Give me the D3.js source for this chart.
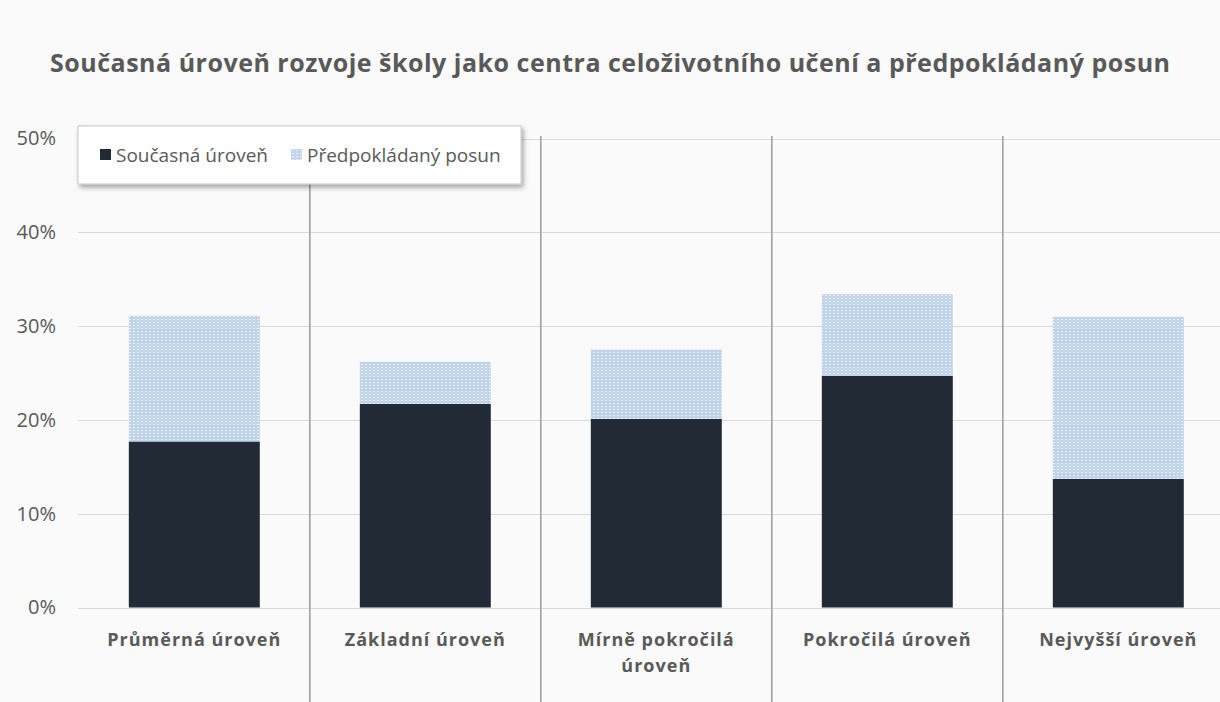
<!DOCTYPE html>
<html>
<head>
<meta charset="utf-8">
<script src="https://cdn.jsdelivr.net/npm/d3@7"></script>
<style>
  body { margin: 0; background: #fafafa; }
  svg { display: block; }
</style>
</head>
<body>
<div id="chart"></div>
<script>
// data (percent)
const categories = ["Průměrná úroveň", "Základní úroveň", "Mírně pokročilá úroveň", "Pokročilá úroveň", "Nejvyšší úroveň"];
const soucasna = [17.7, 21.7, 20.1, 24.7, 13.7];
const posun = [13.4, 4.5, 7.4, 8.7, 17.3];
const seriesNames = ["Současná úroveň", "Předpokládaný posun"];
const yTicks = [0, 10, 20, 30, 40, 50];
const title = "Současná úroveň rozvoje školy jako centra celoživotního učení a předpokládaný posun";

var width = 1220,
    height = 702;
var plotLeft = 78, plotTop = 138.5, plotBottom = 607.5;
var textColor = "#595959", darkColor = "#222a35";

var svg = d3.select("#chart")
  .append("svg")
    .attr("width", width)
    .attr("height", height)
    .style("font-family", "'Open Sans', sans-serif");

var defs = svg.append("defs");

// dotted light-blue fill like the excel pattern
var pat = defs.append("pattern")
    .attr("id", "dots")
    .attr("patternUnits", "userSpaceOnUse")
    .attr("width", 4)
    .attr("height", 3);
pat.append("rect").attr("width", 4).attr("height", 3).attr("fill", "#c2d4e9");
pat.append("rect").attr("x", 1).attr("y", 1).attr("width", 2).attr("height", 1).attr("fill", "#e6eef7");

var shadow = defs.append("filter")
    .attr("id", "shadow")
    .attr("x", "-10%").attr("y", "-30%")
    .attr("width", "120%").attr("height", "170%");
shadow.append("feDropShadow")
    .attr("dx", 2).attr("dy", 3)
    .attr("stdDeviation", 2.5)
    .attr("flood-color", "#000")
    .attr("flood-opacity", 0.35);

var x = d3.scaleBand()
    .domain(categories)
    .range([plotLeft, 1234.6])
    .paddingInner(0.433)
    .paddingOuter(0.22);

var y = d3.scaleLinear()
    .domain([0, 50])
    .range([plotBottom, plotTop]);

// title - shrink the font until it fits the width of the original
var t = svg.append("text")
    .attr("x", width / 2)
    .attr("y", 72)
    .attr("text-anchor", "middle")
    .style("font-size", "25px")
    .style("font-weight", "bold")
    .style("fill", textColor)
    .text(title);
var fs = 25;
while (t.node().getComputedTextLength() > 1120 && fs > 12) {
  fs -= 0.5;
  t.style("font-size", fs + "px");
}
t.attr("textLength", 1120).attr("lengthAdjust", "spacing");

// gridlines
svg.append("g")
  .selectAll("line")
  .data(yTicks)
  .enter().append("line")
    .attr("x1", plotLeft)
    .attr("x2", width)
    .attr("y1", d => Math.round(y(d)) + 0.5)
    .attr("y2", d => Math.round(y(d)) + 0.5)
    .attr("stroke", "#d9d9d9")
    .attr("stroke-width", 1);

// y axis labels
var yAxis = svg.append("g")
    .attr("transform", "translate(56,0)")
    .call(d3.axisLeft(y).tickValues(yTicks).tickSize(0).tickPadding(0).tickFormat(d => d + "%"));
yAxis.select(".domain").remove();
yAxis.selectAll("text")
    .style("font-family", "'Open Sans', sans-serif")
    .style("font-size", "20px")
    .style("fill", textColor);

// separators between categories
var step = x.step();
svg.append("g")
  .selectAll("line")
  .data(categories.slice(1))
  .enter().append("line")
    .attr("x1", d => x(d) - (step - x.bandwidth()) / 2)
    .attr("x2", d => x(d) - (step - x.bandwidth()) / 2)
    .attr("y1", 136)
    .attr("y2", height)
    .attr("stroke", "#a0a0a0")
    .attr("stroke-width", 1.6);

// stacked bars
var rows = categories.map(function(c, i) {
  return { cat: c, a: soucasna[i], b: posun[i] };
});
var stack = d3.stack().keys(["a", "b"]);
var layers = stack(rows);
var fills = [darkColor, "url(#dots)"];

svg.append("g")
  .selectAll("g")
  .data(layers)
  .enter().append("g")
    .attr("fill", (d, i) => fills[i])
  .selectAll("rect")
  .data(d => d)
  .enter().append("rect")
    .attr("x", d => x(d.data.cat))
    .attr("width", x.bandwidth())
    .attr("y", d => y(d[1]))
    .attr("height", d => y(d[0]) - y(d[1]));

// x labels, wrapped like excel does
var xl = svg.append("g")
  .selectAll("text")
  .data(categories)
  .enter().append("text")
    .attr("x", d => x(d) + x.bandwidth() / 2)
    .attr("y", 646)
    .attr("text-anchor", "middle")
    .style("font-size", "18px")
    .style("font-weight", "bold")
    .style("letter-spacing", "1px")
    .style("fill", textColor)
    .text(d => d);

xl.each(function(d) {
  var t = d3.select(this);
  if (this.getComputedTextLength() <= 205) return;
  var words = d.split(" ");
  var last = words.pop();
  t.text(null);
  t.append("tspan").attr("x", t.attr("x")).text(words.join(" "));
  t.append("tspan").attr("x", t.attr("x")).attr("dy", 26).text(last);
});

// legend
var lg = svg.append("g").attr("transform", "translate(78,126)");
lg.append("rect")
    .attr("width", 443)
    .attr("height", 58)
    .attr("fill", "#fff")
    .attr("stroke", "#c8c8c8")
    .attr("filter", "url(#shadow)");

var itemX = [22, 213];
var item = lg.selectAll(".legend")
    .data(seriesNames)
    .enter().append("g")
    .attr("class", "legend")
    .attr("transform", (d, i) => "translate(" + itemX[i] + ",29)");

item.append("rect")
    .attr("y", -6)
    .attr("width", 11)
    .attr("height", 11)
    .attr("fill", (d, i) => fills[i]);

item.append("text")
    .attr("x", 16)
    .attr("dy", ".35em")
    .style("font-size", "19px")
    .style("fill", textColor)
    .text(d => d);
</script>
</body>
</html>
